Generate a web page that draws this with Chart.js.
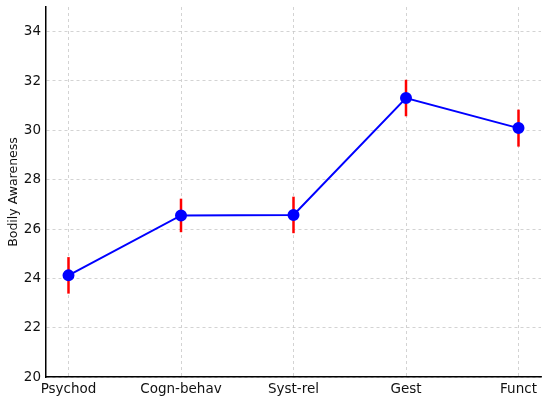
<!DOCTYPE html>
<html>
<head>
<meta charset="utf-8">
<script src="https://cdn.jsdelivr.net/npm/chart.js@4/dist/chart.umd.min.js"></script>
<style>
  html, body { margin: 0; padding: 0; background: #fff; }
  #wrap { width: 550px; height: 401px; }
</style>
</head>
<body>
<div id="wrap"><canvas id="chart" width="550" height="401"></canvas></div>
<script>
const categories = ['Psychod', 'Cogn-behav', 'Syst-rel', 'Gest', 'Funct'];
const means = [24.12, 26.55, 26.57, 31.31, 30.09];
const errors = [0.74, 0.68, 0.74, 0.74, 0.75];
const yTicks = [20, 22, 24, 26, 28, 30, 32, 34];

// draws the vertical red error bars behind the line
const errorBarPlugin = {
    id: 'errorBars',
    beforeDatasetsDraw: (chart) => {
        const ctx = chart.ctx;
        const xs = chart.scales.x;
        const ys = chart.scales.y;
        ctx.save();
        ctx.strokeStyle = '#ff0000';
        ctx.lineWidth = 2.5;
        means.forEach((m, i) => {
            const px = xs.getPixelForValue(i);
            ctx.beginPath();
            ctx.moveTo(px, ys.getPixelForValue(m - errors[i]));
            ctx.lineTo(px, ys.getPixelForValue(m + errors[i]));
            ctx.stroke();
        });
        ctx.restore();
    }
};

const tickFont = { family: 'DejaVu Sans', size: 13.5 };

new Chart(document.getElementById('chart'), {
    type: 'line',
    data: {
        datasets: [{
            data: means.map((m, i) => ({ x: i, y: m })),
            borderColor: '#0000ff',
            backgroundColor: '#0000ff',
            borderWidth: 2,
            pointRadius: 5,
            pointHoverRadius: 5,
            tension: 0
        }]
    },
    plugins: [errorBarPlugin],
    options: {
        responsive: false,
        animation: false,
        layout: { padding: { top: 7, right: 9, left: 0, bottom: 0 } },
        plugins: {
            legend: { display: false },
            tooltip: { enabled: false }
        },
        scales: {
            x: {
                type: 'linear',
                min: -0.2,
                max: 4.2,
                afterBuildTicks: (axis) => {
                    axis.ticks = categories.map((c, i) => ({ value: i }));
                },
                afterFit: (axis) => {
                    axis.height = 24;
                    axis.paddingLeft = 0;
                    axis.paddingRight = 0;
                },
                ticks: {
                    color: '#111',
                    font: tickFont,
                    padding: 4,
                    maxRotation: 0,
                    autoSkip: false,
                    callback: (v) => categories[v]
                },
                grid: {
                    color: '#c8c8c8',
                    lineWidth: 0.8,
                    drawTicks: false
                },
                border: { display: true, color: '#000', width: 1.5, dash: [3, 3] }
            },
            y: {
                min: 20,
                max: 35,
                afterBuildTicks: (axis) => {
                    axis.ticks = yTicks.map(v => ({ value: v }));
                },
                afterFit: (axis) => {
                    axis.width = 46;
                    axis.paddingTop = 0;
                    axis.paddingBottom = 0;
                },
                ticks: {
                    color: '#111',
                    font: tickFont,
                    padding: 5
                },
                grid: {
                    color: '#c8c8c8',
                    lineWidth: 0.8,
                    drawTicks: false
                },
                border: { display: true, color: '#000', width: 1.5, dash: [3, 3] },
                title: {
                    display: true,
                    text: 'Bodily Awareness',
                    color: '#111',
                    font: { family: 'DejaVu Sans', size: 12.5 },
                    padding: { top: 6, bottom: 0 }
                }
            }
        }
    }
});
</script>
</body>
</html>
